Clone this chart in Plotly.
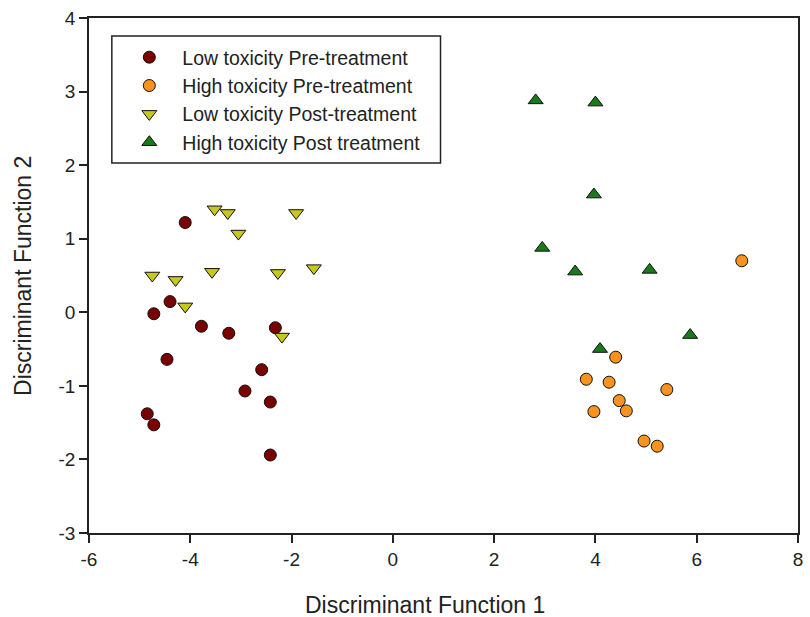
import plotly.graph_objects as go

# Low toxicity Pre-treatment
low_pre_x = [-4.10, -4.40, -4.72, -3.78, -3.24, -2.32, -4.46, -2.59, -2.92, -2.42, -4.85, -4.72, -2.42]
low_pre_y = [1.22, 0.145, -0.02, -0.19, -0.285, -0.21, -0.64, -0.78, -1.07, -1.22, -1.38, -1.53, -1.94]

# High toxicity Pre-treatment
high_pre_x = [6.89, 4.40, 3.82, 4.27, 5.41, 4.47, 4.61, 3.97, 4.96, 5.22]
high_pre_y = [0.70, -0.61, -0.91, -0.95, -1.05, -1.20, -1.34, -1.35, -1.75, -1.82]

# Low toxicity Post-treatment
low_post_x = [-3.52, -3.26, -1.91, -3.05, -4.75, -4.29, -3.57, -2.27, -1.56, -4.10, -2.19]
low_post_y = [1.40, 1.35, 1.35, 1.07, 0.50, 0.44, 0.55, 0.535, 0.60, 0.08, -0.33]

# High toxicity Post treatment
high_post_x = [2.82, 4.00, 3.97, 2.95, 3.60, 5.07, 5.87, 4.09]
high_post_y = [2.88, 2.85, 1.60, 0.875, 0.553, 0.576, -0.31, -0.50]

x_ticks = [-6, -4, -2, 0, 2, 4, 6, 8]
x_tick_labels = ["-6", "-4", "-2", "0", "2", "4", "6", "8"]
y_ticks = [-3, -2, -1, 0, 1, 2, 3, 4]
y_tick_labels = ["-3", "-2", "-1", "0", "1", "2", "3", "4"]

FONT = "Liberation Sans, Arial, sans-serif"
TXT = "#222222"

fig = go.Figure()
series = [
    ("Low toxicity Pre-treatment", low_pre_x, low_pre_y, "circle", "#7a0000", 12),
    ("High toxicity Pre-treatment", high_pre_x, high_pre_y, "circle", "#f7931e", 12),
    ("Low toxicity Post-treatment", low_post_x, low_post_y, "triangle-down", "#c8c81a", 13),
    ("High toxicity Post treatment", high_post_x, high_post_y, "triangle-up", "#1a7a1a", 13),
]
for name, xs, ys, sym, col, sz in series:
    fig.add_trace(go.Scatter(
        x=xs, y=ys, mode="markers", name=name,
        marker=dict(symbol=sym, color=col, size=sz, line=dict(color="#111111", width=1)),
    ))

axis_common = dict(
    showline=True, linecolor=TXT, linewidth=1.5, mirror=True,
    ticks="outside", ticklen=8, tickwidth=1.5, tickcolor=TXT,
    showgrid=False, zeroline=False,
    tickfont=dict(family=FONT, size=19, color=TXT),
)

L, R, T, B = 89, 7, 18, 84
W = 810 - L - R
H = 617 - T - B


def px_x(p):
    return (p - L) / W


def px_y(p):
    return 1 - (p - T) / H


fig.update_layout(
    width=810, height=617,
    margin=dict(l=L, r=R, t=T, b=B),
    paper_bgcolor="white", plot_bgcolor="white",
    xaxis=dict(range=[-6, 8], tickvals=x_ticks, ticktext=x_tick_labels, **axis_common),
    yaxis=dict(range=[-3, 4], tickvals=y_ticks, ticktext=y_tick_labels, **axis_common),
    showlegend=True,
    legend=dict(
        x=px_x(116.5), y=px_y(38), xanchor="left", yanchor="top",
        bgcolor="rgba(0,0,0,0)", borderwidth=0,
        font=dict(family=FONT, size=19.5, color=TXT),
        itemwidth=56,
    ),
    shapes=[
        dict(type="rect", xref="paper", yref="paper",
             x0=px_x(112), x1=px_x(443), y0=px_y(163), y1=px_y(36),
             line=dict(color=TXT, width=1.5), fillcolor="rgba(0,0,0,0)", layer="below"),
    ],
    annotations=[
        dict(text="Discriminant Function 1", x=px_x(427), y=px_y(605),
             xref="paper", yref="paper", xanchor="center", yanchor="middle",
             showarrow=False, font=dict(family=FONT, size=23, color=TXT)),
        dict(text="Discriminant Function 2", textangle=-90, x=px_x(22), y=0.5,
             xref="paper", yref="paper", xanchor="center", yanchor="middle",
             showarrow=False, font=dict(family=FONT, size=23, color=TXT)),
    ],
)

fig.write_html("out.html")
